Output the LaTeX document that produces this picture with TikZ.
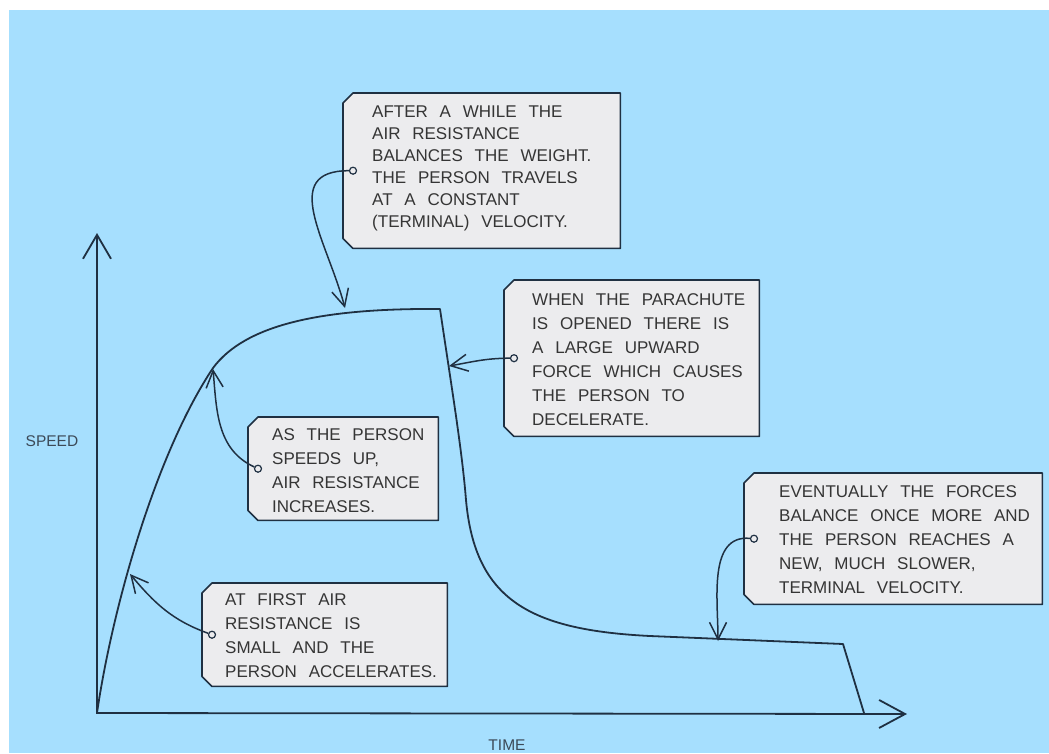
\documentclass[tikz,border=0pt]{standalone}
\usepackage{fontspec}
\setmainfont{Liberation Sans}
\newfontfamily\tagfamily[WordSpace=2.5]{Liberation Sans}
\usetikzlibrary{positioning, arrows.meta, calc}
\definecolor{skyblue}{HTML}{A6DFFE}
\definecolor{tagfill}{HTML}{ECECEE}
\definecolor{inkline}{HTML}{1F3042}
\definecolor{inktext}{HTML}{353535}
\definecolor{axistext}{HTML}{3C4A58}
\def\Chamfer{10pt}
\tikzset{
  tagframe/.style 2 args={minimum width=#1, minimum height=#2, inner sep=0pt, anchor=north west},
  tagline/.style={draw=inkline, fill=tagfill, line width=1.6pt, line join=round},
  tagtext/.style={align=left, inner sep=0pt, anchor=north west, text=inktext,
    font=\tagfamily\fontsize{17}{24}\selectfont},
  hole/.style={circle, draw=inkline, fill=tagfill, line width=1.2pt, inner sep=0pt, minimum size=7pt},
  pointer/.style={draw=inkline, line width=1.5pt, -{Straight Barb[length=17pt,width=17pt]}},
  axis/.style={draw=inkline, line width=1.8pt, {Straight Barb[length=24pt,width=28pt]}-{Straight Barb[length=26pt,width=28pt]}},
  axislabel/.style={text=axistext, font=\fontsize{15.5}{18}\selectfont}
}
\begin{document}
\begin{tikzpicture}[x=1pt,y=-1pt]
        \useasboundingbox (0,0) rectangle (1049,753);
        \fill[white] (0,0) rectangle (1049,753);
        \fill[skyblue] (9,10) rectangle (1049,753);

        %-----------------------------------------------
        % Axes
        \coordinate (O) at (97,713);
        \coordinate (Ytop) at (97,233);
        \coordinate (Xend) at (907,714);
        \draw[axis] (Ytop) -- (O) -- (Xend);
        \node[axislabel] (speed) at (52,441) {SPEED};
        \node[axislabel] (time) at (507,745) {TIME};

        %-----------------------------------------------
        % Speed curve
        \draw[draw=inkline, line width=1.8pt, line join=round]
            (O) .. controls (112,610) and (155,455) .. (213,368)
                .. controls (245,325) and (320,308) .. (440,309)
                .. controls (452,390) and (462,450) .. (466,500)
                .. controls (475,600) and (530,630) .. (650,636)
                -- (843,644) -- (864,713);
        \coordinate (pA) at (345,308);
        \coordinate (pB) at (449,366);
        \coordinate (pC) at (213,369);
        \coordinate (pD) at (130,574);
        \coordinate (pE) at (718,641);

        %-----------------------------------------------
        % Tags
        \node[tagframe={277pt}{155pt}] (A) at (343,93) {};
        \node[tagframe={255pt}{156pt}] (B) at (504,280) {};
        \node[tagframe={190pt}{103pt}] (C) at (248,417) {};
        \node[tagframe={245pt}{103pt}] (D) at (202,583) {};
        \node[tagframe={298pt}{131pt}] (E) at (744,473) {};
        \foreach \n in {A,B,C,D,E}
            \draw[tagline] ([yshift=-\Chamfer]\n.north west) -- ([xshift=\Chamfer]\n.north west)
                -- (\n.north east) -- (\n.south east)
                -- ([xshift=\Chamfer]\n.south west) -- ([yshift=\Chamfer]\n.south west) -- cycle;

        \node[tagtext, font=\tagfamily\fontsize{17}{22}\selectfont] (At) at ([xshift=29pt, yshift=-13pt]A.north west) {
            AFTER A WHILE THE\\
            AIR RESISTANCE\\
            BALANCES THE WEIGHT.\\
            THE PERSON TRAVELS\\
            AT A CONSTANT\\
            (TERMINAL) VELOCITY.};
        \node[tagtext] (Bt) at ([xshift=28pt, yshift=-13pt]B.north west) {
            WHEN THE PARACHUTE\\
            IS OPENED THERE IS\\
            A LARGE UPWARD\\
            FORCE WHICH CAUSES\\
            THE PERSON TO\\
            DECELERATE.};
        \node[tagtext] (Ct) at ([xshift=24pt, yshift=-11pt]C.north west) {
            AS THE PERSON\\
            SPEEDS UP,\\
            AIR RESISTANCE\\
            INCREASES.};
        \node[tagtext] (Dt) at ([xshift=23pt, yshift=-10pt]D.north west) {
            AT FIRST AIR\\
            RESISTANCE IS\\
            SMALL AND THE\\
            PERSON ACCELERATES.};
        \node[tagtext] (Et) at ([xshift=35pt, yshift=-12pt]E.north west) {
            EVENTUALLY THE FORCES\\
            BALANCE ONCE MORE AND\\
            THE PERSON REACHES A\\
            NEW, MUCH SLOWER,\\
            TERMINAL VELOCITY.};

        %-----------------------------------------------
        % Holes and pointers
        \foreach \n in {A,B,C,D,E}
            \node[hole] (\n h) at ([xshift=10pt]\n.west) {};
        \draw[pointer] (Ah) to[out=180, in=105, looseness=1.3] (pA);
        \draw[pointer] (Bh) to[out=180, in=10] (pB);
        \draw[pointer] (Ch) to[out=155, in=-85] (pC);
        \draw[pointer] (Dh) to[out=160, in=-50] (pD);
        \draw[pointer] (Eh) to[out=175, in=90] (pE);

\end{tikzpicture}
\end{document}
